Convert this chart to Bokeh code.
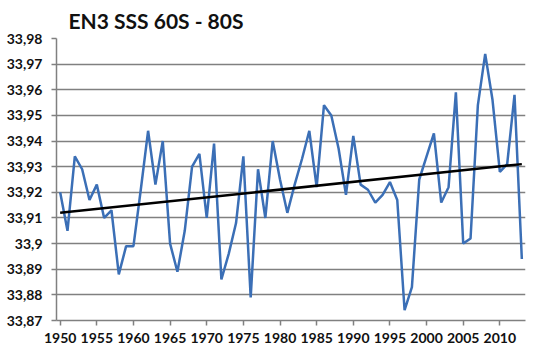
from bokeh.plotting import figure
from bokeh.models import Range1d, FixedTicker, CustomJSTickFormatter
from bokeh.embed import file_html
from bokeh.resources import INLINE

years = list(range(1950, 2014))
sss = [33.920, 33.905, 33.934, 33.929, 33.917, 33.923, 33.910, 33.913, 33.888, 33.899,
       33.899, 33.921, 33.944, 33.923, 33.940, 33.900, 33.889, 33.905, 33.930, 33.935,
       33.910, 33.939, 33.886, 33.896, 33.908, 33.934, 33.879, 33.929, 33.910, 33.940,
       33.925, 33.912, 33.923, 33.933, 33.944, 33.922, 33.954, 33.950, 33.937, 33.919,
       33.942, 33.923, 33.921, 33.916, 33.919, 33.924, 33.917, 33.874, 33.883, 33.925,
       33.934, 33.943, 33.916, 33.922, 33.959, 33.900, 33.902, 33.954, 33.974, 33.956,
       33.928, 33.931, 33.958, 33.894]
trend_years = [1950, 2013]
trend_vals = [33.912, 33.931]
x_ticks = list(range(1950, 2011, 5))
y_ticks = [33.87, 33.88, 33.89, 33.90, 33.91, 33.92, 33.93, 33.94, 33.95, 33.96, 33.97, 33.98]

p = figure(width=540, height=352, output_backend="svg", toolbar_location=None,
           x_range=Range1d(1949.5, 2013.5), y_range=Range1d(33.87, 33.98),
           min_border_left=56, min_border_right=15, min_border_top=37, min_border_bottom=32,
           title="EN3 SSS 60S - 80S")
p.title.text_font = "Lato"
p.title.text_font_size = "21px"
p.title.text_font_style = "bold"
p.title.text_color = "#111111"
p.title.align = "left"
p.title.offset = 12
p.title.standoff = 11
p.outline_line_color = None
p.background_fill_color = "white"
p.border_fill_color = "white"

p.xgrid.grid_line_color = None
p.ygrid.grid_line_color = "#808080"
p.ygrid.grid_line_width = 1.7

p.yaxis.ticker = FixedTicker(ticks=y_ticks)
p.yaxis.formatter = CustomJSTickFormatter(code="""
const s = (Math.round(tick*100)/100).toString();
return s.replace('.', ',');
""")
p.xaxis.ticker = FixedTicker(ticks=x_ticks)
for ax in (p.xaxis, p.yaxis):
    ax.axis_line_color = "#808080"
    ax.axis_line_width = 1.5
    ax.major_tick_line_color = "#808080"
    ax.major_tick_line_width = 1.5
    ax.major_tick_out = 5
    ax.major_tick_in = 0
    ax.minor_tick_line_color = None
    ax.major_label_text_font = "Lato"
    ax.major_label_text_font_style = "bold"
    ax.major_label_text_font_size = "14px"
    ax.major_label_text_color = "#111111"
p.yaxis.major_label_standoff = 9
p.xaxis.major_label_standoff = 7

p.line(years, sss, line_color="#3b6fb6", line_width=2.5)
p.line(trend_years, trend_vals, line_color="black", line_width=2.5)

open("out.html", "w").write(file_html(p, INLINE))
